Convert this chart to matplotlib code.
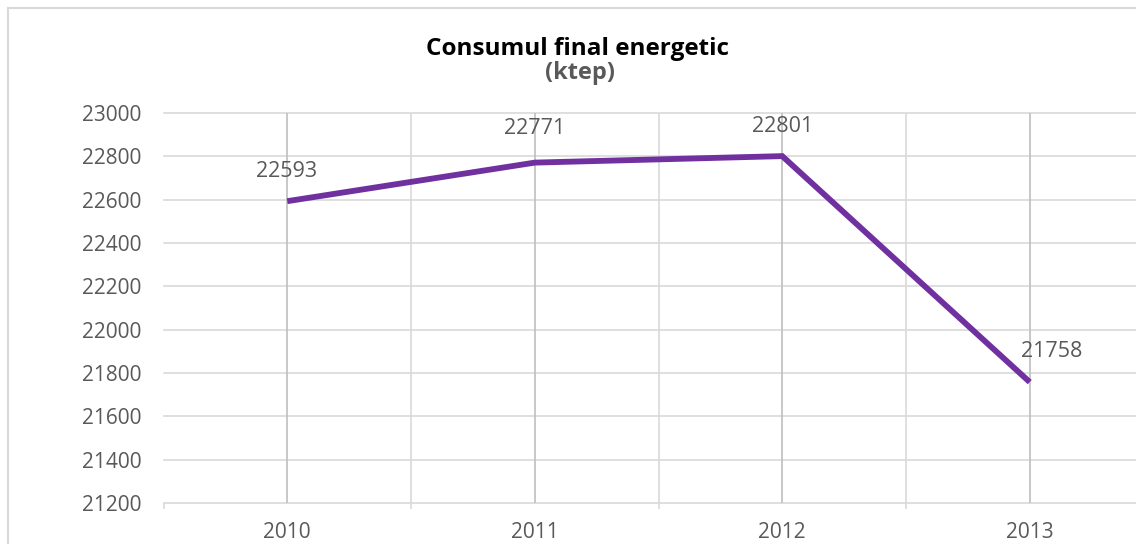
"""
Consumul final energetic (ktep), 2010-2013
"""
import matplotlib
matplotlib.use("Agg")
import matplotlib.pyplot as plt
from matplotlib.lines import Line2D

# data
years = ["2010", "2011", "2012", "2013"]
consumption = [22593, 22771, 22801, 21758]
y_ticks = [21200, 21400, 21600, 21800, 22000, 22200, 22400, 22600, 22800, 23000]

title = "Consumul final energetic"
subtitle = "(ktep)"

# label offsets in pixels (dx, dy), one per point
label_offsets = [(-1, 30), (0, 34), (0, 30), (22, 31)]

W, H = 1136, 544
DPI = 100
plt.rcParams['font.family'] = ['Open Sans', 'DejaVu Sans']

fig = plt.figure(figsize=(W / DPI, H / DPI), dpi=DPI)

# outer chart frame (only top and left are visible in the crop)
frame_col = '#d9d9d9'
fig.add_artist(Line2D([8 / W, 1.0], [1 - 8 / H, 1 - 8 / H], transform=fig.transFigure,
                      color=frame_col, linewidth=1.5))
fig.add_artist(Line2D([8 / W, 8 / W], [0.0, 1 - 8 / H], transform=fig.transFigure,
                      color=frame_col, linewidth=1.5))

# plot area: left edge 163px, right edge past the crop, y from 113 to 503 px
left, right = 163.5, 1153.5
top, bottom = 113, 503
ax = fig.add_axes([left / W, (H - bottom) / H, (right - left) / W, (bottom - top) / H])

x = list(range(len(years)))
ax.set_xlim(-0.5, len(years) - 0.5)
ax.set_ylim(y_ticks[0], y_ticks[-1])

# gridlines
for v in y_ticks:
    ax.axhline(v, color='#d9d9d9', linewidth=1.2, zorder=1, clip_on=False)
for i in x:
    ax.axvline(i, color='#bfbfbf', linewidth=1.2, zorder=1)
for b in [i + 0.5 for i in x[:-1]]:
    ax.axvline(b, color='#d9d9d9', linewidth=1.2, zorder=1)

ax.plot(x, consumption, color='#7030a0', linewidth=4.2, solid_capstyle='butt',
        solid_joinstyle='miter', zorder=3)

for xi, val, (dx, dy) in zip(x, consumption, label_offsets):
    ax.annotate(str(val), (xi, val), xytext=(dx * 72 / DPI, dy * 72 / DPI),
                textcoords='offset points', ha='center', va='center',
                fontsize=15.5, color='#595959', zorder=4)

for s in ax.spines.values():
    s.set_visible(False)

ax.set_yticks(y_ticks)
ax.set_yticklabels([str(v) for v in y_ticks])
ax.tick_params(axis='y', length=0, pad=16, labelsize=15, labelcolor='#595959')

ax.set_xticks(x)
ax.set_xticklabels(years)
ax.set_xticks([i - 0.5 for i in x] + [len(years) - 0.5], minor=True)
ax.tick_params(axis='x', which='major', length=0, pad=14, labelsize=15, labelcolor='#595959')
ax.tick_params(axis='x', which='minor', length=4, width=1.2, color='#d9d9d9')

fig.text(577 / W, 1 - 49 / H, title, ha='center', va='center',
         fontsize=17.5, fontweight='bold', color='black')
fig.text(580 / W, 1 - 73 / H, subtitle, ha='center', va='center',
         fontsize=17, fontweight='bold', color='#595959')

fig.savefig('out.png', dpi=DPI, facecolor='white')
